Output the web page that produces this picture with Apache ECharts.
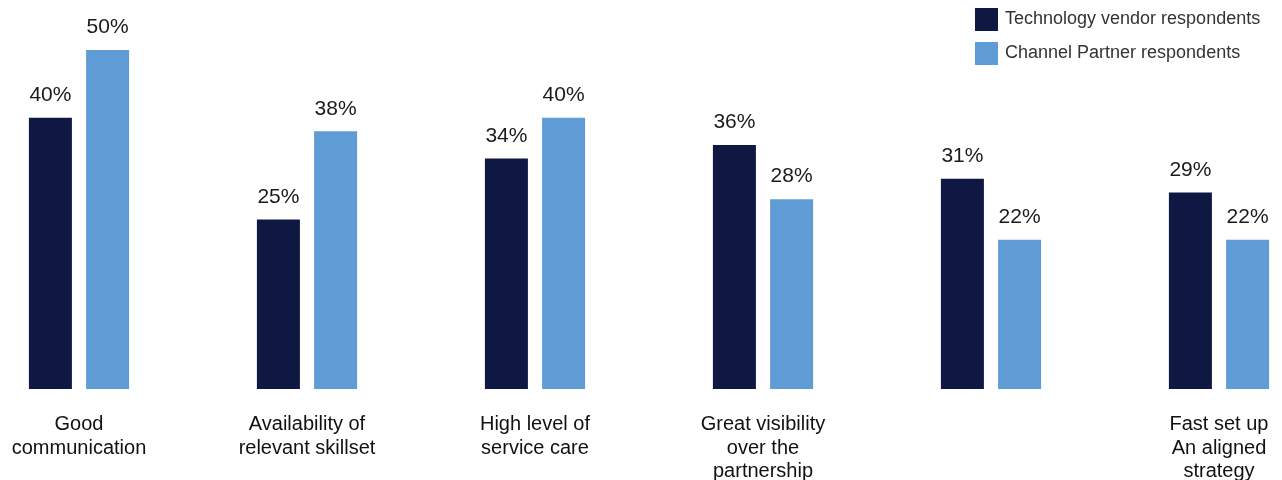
<!DOCTYPE html>
<html>
<head>
<meta charset="utf-8">
<script src="https://cdn.jsdelivr.net/npm/echarts@6/dist/echarts.min.js"></script>
<style>html,body{margin:0;padding:0;background:#fff;}#c{width:1282px;height:480px;}</style>
</head>
<body>
<div id="c"></div>
<script>
const categories = [
  "Good\ncommunication",
  "Availability of\nrelevant skillset",
  "High level of\nservice care",
  "Great visibility\nover the\npartnership",
  "",
  "Fast set up\nAn aligned\nstrategy"
];
const seriesNames = ["Technology vendor respondents", "Channel Partner respondents"];
const vendorValues = [40, 25, 34, 36, 31, 29];
const partnerValues = [50, 38, 40, 28, 22, 22];

const chart = echarts.init(document.getElementById('c'), null, {renderer: 'canvas'});
const font = "'Liberation Sans', Arial, Helvetica, sans-serif";
const labelCfg = {
  show: true, position: 'top', distance: 12,
  formatter: p => p.value + '%',
  fontSize: 21, color: '#1a1a1a', fontFamily: font
};
chart.setOption({
  animation: false,
  backgroundColor: '#ffffff',
  legend: {
    orient: 'vertical', left: 975, top: 8, padding: 0,
    itemWidth: 23, itemHeight: 23, itemGap: 11,
    icon: 'rect',
    textStyle: {fontSize: 18, color: '#333333', fontFamily: font, padding: [3, 0, 0, 2]},
    data: seriesNames
  },
  grid: {left: -35, width: 1368, top: 50, bottom: 91, containLabel: false, outerBoundsMode: 'none'},
  xAxis: {
    type: 'category', data: categories,
    axisLine: {show: false}, axisTick: {show: false},
    axisLabel: {margin: 24, fontSize: 20, lineHeight: 23.5, color: '#111111', fontFamily: font, interval: 0}
  },
  yAxis: {type: 'value', min: 0, max: 50, show: false, splitLine: {show: false}},
  series: [
    {name: seriesNames[0], type: 'bar', data: vendorValues, barWidth: 43, barGap: '33%',
     itemStyle: {color: '#0e1843'}, label: labelCfg},
    {name: seriesNames[1], type: 'bar', data: partnerValues, barWidth: 43, barGap: '33%',
     itemStyle: {color: '#5f9cd5'}, label: labelCfg}
  ]
});
</script>
</body>
</html>
